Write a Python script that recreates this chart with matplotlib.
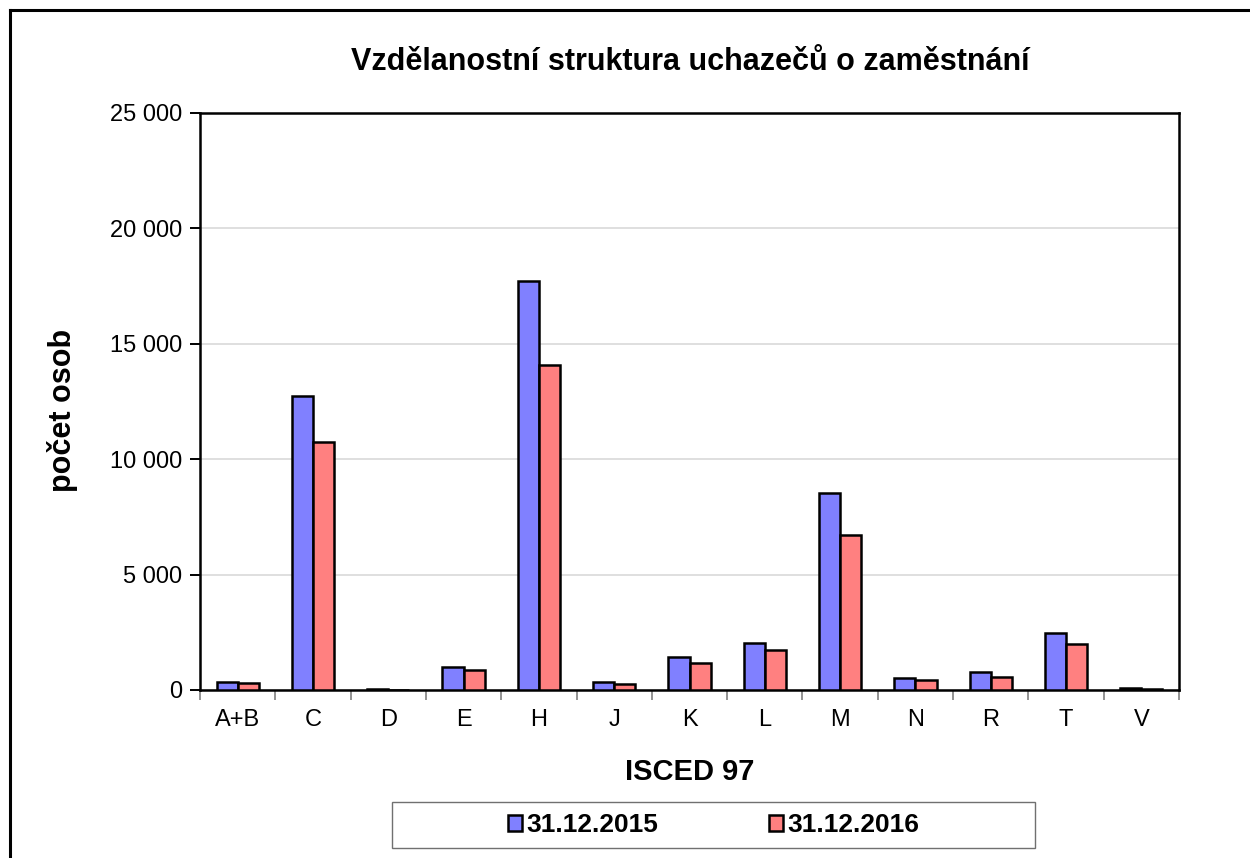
import numpy as np
import matplotlib
matplotlib.use("Agg")
import matplotlib.pyplot as plt
from matplotlib.ticker import FuncFormatter, FixedLocator
from matplotlib.patches import Rectangle
from matplotlib.lines import Line2D

plt.rcParams['font.family'] = ['Liberation Sans', 'DejaVu Sans']

# data
categories = ['A+B', 'C', 'D', 'E', 'H', 'J', 'K', 'L', 'M', 'N', 'R', 'T', 'V']
vals_2015 = [330, 12750, 30, 1010, 17700, 350, 1450, 2050, 8550, 520, 770, 2470, 100]
vals_2016 = [300, 10750, 20, 850, 14100, 250, 1160, 1720, 6700, 420, 580, 2000, 60]
series_labels = ['31.12.2015', '31.12.2016']

W, H = 1250, 858
fig = plt.figure(figsize=(W / 100, H / 100), dpi=100)
ax = fig.add_axes([200 / W, 1 - 690 / H, (1179 - 200) / W, (690 - 113) / H])

x = np.arange(len(categories))
bw = 0.28
b1 = ax.bar(x - bw / 2, vals_2015, bw, color='#8080ff', edgecolor='black', linewidth=1.8, zorder=3)
b2 = ax.bar(x + bw / 2, vals_2016, bw, color='#ff8080', edgecolor='black', linewidth=1.8, zorder=3)

ax.set_xlim(-0.5, len(categories) - 0.5)
ax.set_ylim(0, 25000)
ax.set_yticks(np.arange(0, 25001, 5000))
ax.yaxis.set_major_formatter(FuncFormatter(lambda v, p: '{:,.0f}'.format(v).replace(',', ' ')))
ax.grid(axis='y', color='#d9d9d9', linewidth=1.2, zorder=0)

# category labels centred, ticks between categories
ax.set_xticks(x)
ax.set_xticklabels(categories)
ax.tick_params(axis='x', which='major', length=0, labelsize=17, pad=14)
ax.xaxis.set_minor_locator(FixedLocator(np.arange(-0.5, len(categories), 1)))
ax.tick_params(axis='x', which='minor', length=7, width=1.2, color='#808080')
ax.tick_params(axis='y', length=7, width=1.4, labelsize=17, pad=6)

for s in ax.spines.values():
    s.set_linewidth(1.8)
    s.set_color('black')

fig.text(690 / W, 1 - 62 / H, 'Vzdělanostní struktura uchazečů o zaměstnání',
         fontsize=22, fontweight='bold', ha='center', va='center')
fig.text(690 / W, 1 - 772 / H, 'ISCED 97', fontsize=21, fontweight='bold',
         ha='center', va='center')
fig.text(62 / W, 1 - 410 / H, 'počet osob', fontsize=22, fontweight='bold',
         ha='center', va='center', rotation=90)

# legend box
fig.patches.append(Rectangle((392 / W, 1 - 848 / H), (1035 - 392) / W, 46 / H,
                             transform=fig.transFigure, fill=False,
                             edgecolor='#707070', linewidth=1.0))
fig.legend([b1, b2], series_labels, loc='center',
           bbox_to_anchor=((392 + 1035) / 2 / W, 1 - 825 / H), ncol=2,
           frameon=False, prop={'size': 19, 'weight': 'bold'},
           handlelength=0.55, handleheight=0.55, handletextpad=0.15,
           columnspacing=4.2)

# outer chart border (left and top edges visible)
fig.lines.append(Line2D([9.5 / W, 9.5 / W], [0, 1 - 10 / H], transform=fig.transFigure,
                        color='black', linewidth=2.2))
fig.lines.append(Line2D([9.5 / W, 1], [1 - 10 / H, 1 - 10 / H], transform=fig.transFigure,
                        color='black', linewidth=2.2))

fig.savefig('out.png', dpi=100)
